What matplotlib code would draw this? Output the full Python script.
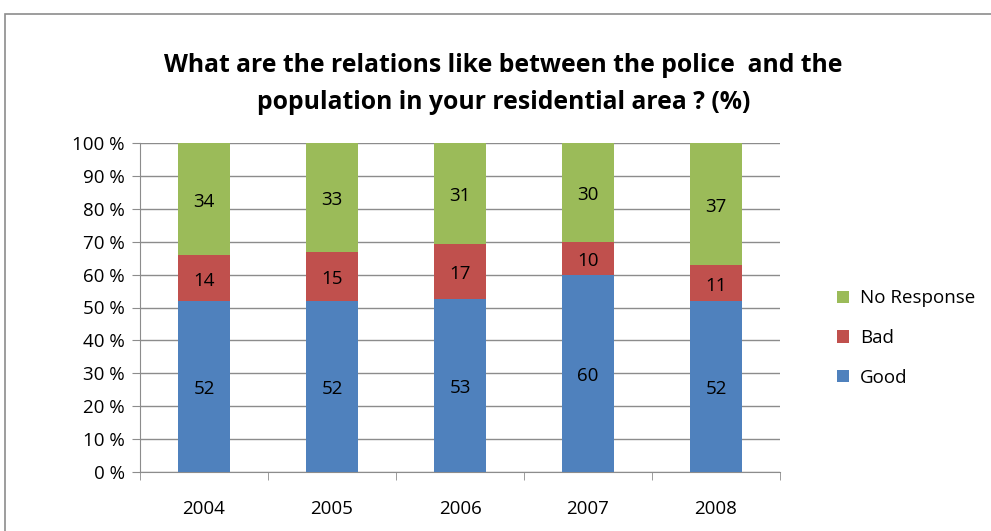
import numpy as np
import matplotlib.pyplot as plt
from matplotlib.patches import Rectangle

plt.rcParams['font.family'] = ['Open Sans', 'DejaVu Sans']

years = ['2004', '2005', '2006', '2007', '2008']
good = [52, 52, 53, 60, 52]
bad = [14, 15, 17, 10, 11]
no_response = [34, 33, 31, 30, 37]

series = [('Good', good, '#4F81BD'),
          ('Bad', bad, '#C0504D'),
          ('No Response', no_response, '#9BBB59')]

# 100 % stacked: scale each year by its own total
totals = np.array(good) + np.array(bad) + np.array(no_response)

fig = plt.figure(figsize=(9.91, 5.31), dpi=100)
ax = fig.add_axes([140/991, 59/531, 640/991, 329/531])

# chart area frame
fig.patches.append(Rectangle((5/991, -0.1), 1.2, 1.1 - 14/531,
                             transform=fig.transFigure, fill=False,
                             edgecolor='#8c8c8c', linewidth=1.2, zorder=0))

fs = 13.5
x = np.arange(len(years))
bottom = np.zeros(len(years))
handles = []
for name, vals, color in series:
    share = np.array(vals) / totals * 100
    b = ax.bar(x, share, width=0.41, bottom=bottom, color=color, label=name, zorder=3)
    handles.append(b)
    for xi, bi, si, v in zip(x, bottom, share, vals):
        ax.annotate(str(v), (xi, bi + si / 2), xytext=(0, -2), textcoords='offset points',
                    ha='center', va='center', fontsize=fs, color='black', zorder=4)
    bottom += share

ax.set_xlim(-0.5, len(years) - 0.5)
ax.set_ylim(0, 100)
ax.set_yticks(np.arange(0, 101, 10))
ax.set_yticklabels([f'{v} %' for v in range(0, 101, 10)], fontsize=fs)
ax.set_xticks(x)
ax.set_xticklabels(years, fontsize=fs)
ax.tick_params(axis='x', length=0, pad=20)
ax.tick_params(axis='y', length=6, color='#8c8c8c', pad=5)
ax.set_xticks(np.arange(-0.5, len(years)), minor=True)
ax.tick_params(axis='x', which='minor', length=6, color='#8c8c8c', direction='out')

ax.yaxis.grid(True, color='#8c8c8c', linewidth=1, zorder=0)
ax.set_axisbelow(True)
for side in ['top', 'right']:
    ax.spines[side].set_visible(False)
ax.spines['left'].set_color('#8c8c8c')
ax.spines['bottom'].set_color('#8c8c8c')

fig.text(0.508, 1 - 84/531, 'What are the relations like between the police  and the\npopulation in your residential area ? (%)',
         ha='center', va='center', fontsize=17.8, fontweight='bold', linespacing=1.6)

leg = fig.legend(handles[::-1], [s[0] for s in series][::-1],
                 loc='center left', bbox_to_anchor=(820/991, 1 - 338/531),
                 frameon=False, fontsize=fs, handlelength=0.65, handleheight=0.65,
                 labelspacing=1.15, handletextpad=0.6)

fig.savefig('out.png', dpi=100)
